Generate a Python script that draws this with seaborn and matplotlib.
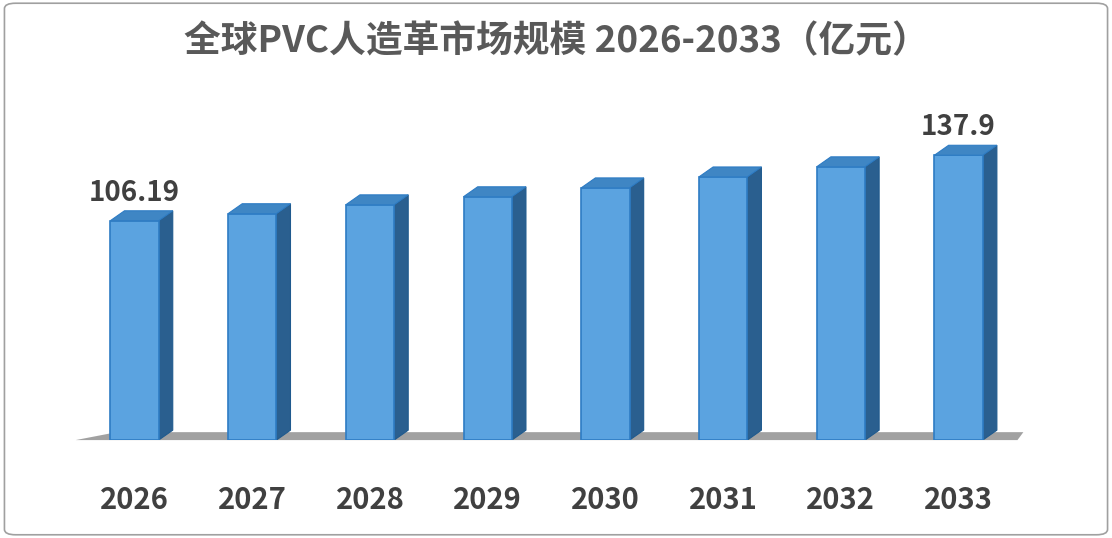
import matplotlib
matplotlib.use("Agg")
import matplotlib.pyplot as plt
import seaborn as sns
import pandas as pd
from matplotlib.patches import Polygon, FancyBboxPatch

years = ["2026", "2027", "2028", "2029", "2030", "2031", "2032", "2033"]
values = [106.19, 109.6, 113.9, 117.8, 122.1, 127.4, 132.3, 137.9]
labels = {0: "106.19", 7: "137.9"}

sns.set_theme(style="white")
plt.rcParams['font.family'] = ['Noto Sans CJK SC', 'DejaVu Sans']

fig = plt.figure(figsize=(11.12, 5.38), dpi=100)
ax = fig.add_axes([0.068, 0.182, 0.847, 0.576])
df = pd.DataFrame({"year": years, "value": values})
sns.barplot(data=df, x="year", y="value", color="#5BA3E0", width=0.41,
            edgecolor="#2E7CC4", linewidth=1.2, saturation=1, ax=ax, zorder=3)
ax.set_ylim(0, 150)
ax.set_xlim(-0.5, 7.5)
dx, dy = 0.12, 4.8
# floor shadow
ax.add_patch(Polygon([(-0.5, 0), (7.5, 0), (7.5 + 0.05, dy * 0.8), (-0.5 + 0.35, dy * 0.8)],
                     closed=True, facecolor="#303030", alpha=0.45, edgecolor="none",
                     zorder=1, clip_on=False))
for i, p in enumerate(ax.patches[:len(years)]):
    x0 = p.get_x(); w = p.get_width(); h = p.get_height()
    x1 = x0 + w
    ax.add_patch(Polygon([(x1, 0), (x1 + dx, dy), (x1 + dx, h + dy), (x1, h)],
                         facecolor="#2A5F8F", edgecolor="#1F5A8E", lw=0.8, zorder=2))
    ax.add_patch(Polygon([(x0, h), (x0 + dx, h + dy), (x1 + dx, h + dy), (x1, h)],
                         facecolor="#3F86C4", edgecolor="#2E7CC4", lw=0.8, zorder=4))
    if i in labels:
        ax.text(p.get_x() + w / 2, h + dy + 2, labels[i], ha="center", va="bottom",
                fontsize=20, fontweight="bold", color="#404040")
for s in ax.spines.values():
    s.set_visible(False)
ax.set_yticks([])
ax.set_xlabel(""); ax.set_ylabel("")
ax.tick_params(axis="x", length=0, pad=32, labelsize=21, labelcolor="#404040")
for t in ax.get_xticklabels():
    t.set_fontweight("bold")
fig.text(0.5, 0.922, "全球PVC人造革市场规模 2026-2033（亿元）", ha="center", va="center",
         fontsize=26.5, fontweight="bold", color="#595959")
fig.patches.append(FancyBboxPatch((0.004, 0.006), 0.992, 0.988,
                                  boxstyle="round,pad=0,rounding_size=0.01",
                                  transform=fig.transFigure, fill=False,
                                  edgecolor="#A0A0A0", lw=1.2))
fig.savefig("out.png", dpi=100)
